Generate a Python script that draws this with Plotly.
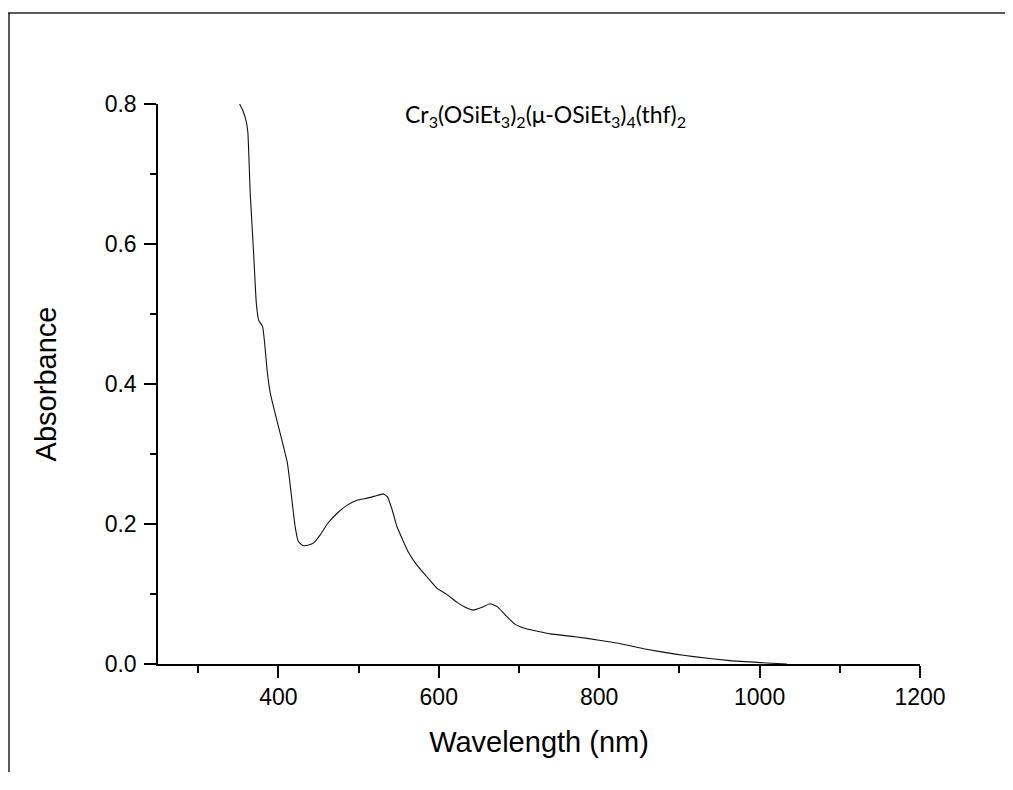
import plotly.graph_objects as go

wavelength_nm = [351.8, 356, 360, 362, 365, 369, 372.6, 375.5, 380.4, 383, 386, 390, 396, 404,
                 411, 413, 417, 421, 425, 431, 438, 444, 452, 461, 473, 486, 498, 511, 521, 531,
                 536, 542, 548, 554, 562, 573, 585, 598, 610, 623, 633, 643, 654, 664, 673, 683,
                 695, 710, 726, 739, 770, 800, 822, 859, 897, 918, 963, 1001, 1034]
absorbance = [0.800, 0.790, 0.775, 0.760, 0.672, 0.591, 0.515, 0.491, 0.482, 0.458, 0.420, 0.387,
              0.358, 0.322, 0.289, 0.273, 0.234, 0.196, 0.175, 0.169, 0.170, 0.173, 0.184, 0.200,
              0.215, 0.227, 0.234, 0.237, 0.240, 0.243, 0.239, 0.220, 0.196, 0.180, 0.160, 0.141,
              0.125, 0.108, 0.0995, 0.088, 0.081, 0.077, 0.081, 0.086, 0.082, 0.070, 0.057, 0.050,
              0.046, 0.043, 0.039, 0.034, 0.030, 0.021, 0.0138, 0.0105, 0.0048, 0.002, 0.0]

x_ticks = [400, 600, 800, 1000, 1200]
y_ticks = [0.0, 0.2, 0.4, 0.6, 0.8]
y_tick_labels = ["0.0", "0.2", "0.4", "0.6", "0.8"]

title_text = "Cr<sub>3</sub>(OSiEt<sub>3</sub>)<sub>2</sub>(μ-OSiEt<sub>3</sub>)<sub>4</sub>(thf)<sub>2</sub>"

OFF = 8  # page body margin
W, H = 1013 - 2 * OFF, 790 - 2 * OFF - 10
L, T = 158 - OFF, 104 - OFF
pw, ph = 762, 560
R, B = W - L - pw, H - T - ph

def fx(p):
    # figure-pixel x -> paper fraction
    return (p - L) / pw

def fy(p):
    # figure-pixel y -> paper fraction
    return (T + ph - p) / ph

fig = go.Figure()
fig.add_trace(go.Scatter(x=wavelength_nm, y=absorbance, mode="lines",
                         line=dict(color="#111111", width=1.1, shape="spline", smoothing=0.4),
                         showlegend=False, hoverinfo="x+y"))

axis_font = dict(family="Arial, Liberation Sans, sans-serif", size=23, color="black")
title_font = dict(family="Arial, Liberation Sans, sans-serif", size=29, color="black")

fig.update_layout(
    width=W, height=H,
    margin=dict(l=L, r=R, t=T, b=B, autoexpand=False),
    paper_bgcolor="white", plot_bgcolor="white",
    xaxis=dict(range=[250, 1200], tickvals=x_ticks, ticks="outside", ticklen=12, tickwidth=1.5,
               tickcolor="black", showline=True, linecolor="black", linewidth=1.5,
               showgrid=False, zeroline=False, tickfont=axis_font,
               minor=dict(dtick=100, tick0=0, ticks="outside", ticklen=7, tickwidth=1.5, tickcolor="black", showgrid=False),
               title=dict(text="Wavelength (nm)", font=title_font, standoff=22)),
    yaxis=dict(range=[0, 0.8], tickvals=y_ticks, ticktext=y_tick_labels, ticks="outside", ticklen=12,
               tickwidth=1.5, tickcolor="black", showline=True, linecolor="black", linewidth=1.5,
               showgrid=False, zeroline=False, tickfont=axis_font, ticklabelstandoff=3,
               minor=dict(dtick=0.1, tick0=0, ticks="outside", ticklen=6, tickwidth=1.5, tickcolor="black", showgrid=False),
               title=dict(text="Absorbance", font=title_font, standoff=40)),
    annotations=[dict(text=title_text, xref="paper", yref="paper", x=fx(537), y=fy(107),
                      xanchor="center", yanchor="middle", showarrow=False,
                      font=dict(family="Lato, Open Sans, sans-serif", size=23, color="black"))],
    shapes=[
        dict(type="line", xref="paper", yref="paper", x0=fx(1), x1=fx(1), y0=fy(5), y1=fy(H),
             line=dict(color="#222222", width=1.5)),
        dict(type="line", xref="paper", yref="paper", x0=fx(0), x1=fx(W), y0=fy(5), y1=fy(5),
             line=dict(color="#222222", width=1.5)),
    ],
)

fig.write_html("out.html")
